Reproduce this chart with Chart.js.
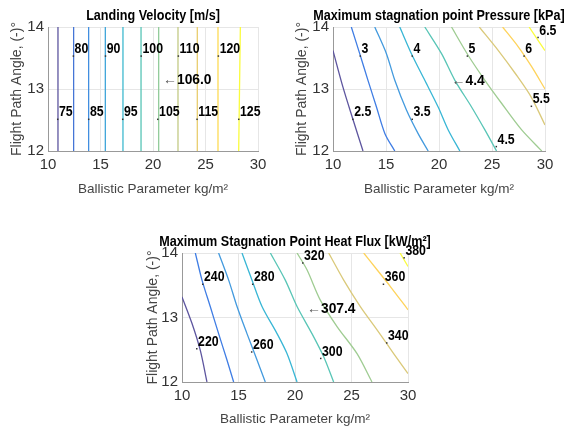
<!DOCTYPE html>
<html>
<head>
<meta charset="utf-8">
<script src="https://cdn.jsdelivr.net/npm/chart.js@4.4.0/dist/chart.umd.min.js"></script>
<style>
  body { margin: 0; background: #fff; }
  #wrap { position: relative; width: 569px; height: 430px; overflow: hidden; }
  canvas { position: absolute; }
</style>
</head>
<body>
<div id="wrap">
  <canvas id="velChart" style="left:0px;top:0px;width:285px;height:200px" width="285" height="200"></canvas>
  <canvas id="pressChart" style="left:285px;top:0px;width:284px;height:200px" width="284" height="200"></canvas>
  <canvas id="heatChart" style="left:130px;top:210px;width:320px;height:220px" width="320" height="220"></canvas>
</div>
<script>
const FONT = '"Liberation Sans", Arial, sans-serif';

// Landing velocity [m/s] - near vertical lines, x at gamma = 12 and gamma = 14
const velLevels = [75, 80, 85, 90, 95, 100, 105, 110, 115, 120, 125];
const velXat12 = [10.95, 12.44, 13.87, 15.46, 17.14, 18.86, 20.54, 22.38, 24.22, 26.19, 28.16];
const velXat14 = [10.95, 12.44, 13.87, 15.46, 17.14, 18.86, 20.54, 22.38, 24.22, 26.19, 28.32];
const velLabelText = ['80', '90', '100', '110', '120', '75', '85', '95', '105', '115', '125'];
const velLabelX = [12.44, 15.5, 18.9, 22.44, 26.25, 10.95, 13.9, 17.14, 20.48, 24.22, 28.19];
const velLabelY = [13.64, 13.64, 13.64, 13.64, 13.64, 12.62, 12.62, 12.62, 12.62, 12.62, 12.62];
const velMark = ['106.0', 20.95, 13.14];

// Maximum stagnation point pressure [kPa]
const pressLevels = [2.5, 3, 3.5, 4, 4.5, 5, 5.5, 6, 6.5];
const pressLines = [
  [[10, 13.62], [10.94, 13.03], [11.9, 12.5], [12.83, 12]],
  [[11.73, 14], [12.52, 13.57], [13.3, 13.14], [14.1, 12.71], [14.9, 12.28], [15.83, 12]],
  [[13.94, 14], [15.04, 13.57], [15.83, 13.14], [16.93, 12.66], [18.03, 12.28], [18.98, 12]],
  [[16.3, 14], [17.4, 13.57], [18.66, 13.14], [19.92, 12.71], [20.87, 12.34], [21.97, 12]],
  [[18.66, 14], [20.24, 13.57], [21.5, 13.14], [23.07, 12.71], [24.33, 12.34], [25.43, 12]],
  [[21.18, 14], [22.76, 13.54], [24.33, 13.14], [25.9, 12.77], [27.8, 12.34], [29.7, 12]],
  [[23.8, 14], [25.6, 13.62], [27.2, 13.25], [28.7, 12.87], [30, 12.42]],
  [[26, 14], [27.48, 13.68], [28.74, 13.36], [30, 13.0]],
  [[28.5, 14], [30, 13.62]]
];
const pressLabelText = ['3', '4', '5', '6', '6.5', '2.5', '3.5', '5.5', '4.5'];
const pressLabelX = [12.6, 17.5, 22.7, 28.05, 29.37, 11.9, 17.5, 28.74, 25.43];
const pressLabelY = [13.64, 13.64, 13.64, 13.64, 13.94, 12.62, 12.62, 12.83, 12.18];
const pressMark = ['4.4', 21.18, 13.13];

// Maximum stagnation point heat flux [kW/m2]
const heatLevels = [220, 240, 260, 280, 300, 320, 340, 360, 380];
const heatLines = [
  [[10, 13.32], [10.88, 12.91], [11.62, 12.49], [12.21, 12]],
  [[11.18, 14], [11.77, 13.58], [12.5, 13.17], [13.24, 12.75], [13.98, 12.34], [14.57, 12]],
  [[13.24, 14], [14.13, 13.58], [14.87, 13.17], [15.75, 12.75], [16.64, 12.34], [17.37, 12]],
  [[15.31, 14], [16.19, 13.58], [17.08, 13.17], [18.41, 12.75], [19.29, 12.44], [20.18, 12]],
  [[17.82, 14], [19.14, 13.58], [20.18, 13.17], [21.5, 12.75], [22.54, 12.39], [23.42, 12]],
  [[20.18, 14], [21.06, 13.74], [22.24, 13.27], [23.72, 12.86], [25.49, 12.44], [26.81, 12]],
  [[22.98, 14], [24.31, 13.58], [25.78, 13.17], [27.26, 12.81], [28.73, 12.44], [30, 12.13]],
  [[26.08, 14], [27.26, 13.74], [28.44, 13.48], [30, 13.12]],
  [[29.3, 14], [30, 13.79]]
];
const heatLabelText = ['240', '280', '320', '360', '380', '220', '260', '300', '340'];
const heatLabelX = [11.86, 16.28, 20.71, 27.85, 29.68, 11.33, 16.19, 22.3, 28.14];
const heatLabelY = [13.62, 13.62, 13.95, 13.62, 14.03, 12.62, 12.57, 12.47, 12.71];
const heatMark = ['307.4', 21.06, 13.13];

const xTicks = [10, 15, 20, 25, 30];
const yTicks = [12, 13, 14];

// parula-like colour stops
const PARULA = ['#352a87', '#0f5cdd', '#1481d6', '#06a4ca', '#2eb7a4', '#87bf77', '#d1bb59', '#fec832', '#f9fb0e'];

function hexToRgb(h) {
  return [parseInt(h.substr(1, 2), 16), parseInt(h.substr(3, 2), 16), parseInt(h.substr(5, 2), 16)];
}

// thin lines in the original look washed out, so blend a bit of white in
function parula(t) {
  const f = t * (PARULA.length - 1);
  const i = Math.min(Math.floor(f), PARULA.length - 2);
  const a = hexToRgb(PARULA[i]), b = hexToRgb(PARULA[i + 1]);
  const k = f - i;
  const c = a.map((v, j) => Math.round((v + (b[j] - v) * k) * 0.8 + 255 * 0.2));
  return 'rgb(' + c.join(',') + ')';
}

function squeezeText(ctx, t, x, y, sx) {
  ctx.save();
  ctx.translate(x, y);
  ctx.scale(sx, 1);
  ctx.fillText(t, 0, 0);
  ctx.restore();
}

function textPlugin(o) {
  return {
    id: 'contourText',
    afterDraw(chart) {
      const { ctx, chartArea, scales } = chart;
      ctx.save();
      // title
      ctx.fillStyle = '#000';
      ctx.font = 'bold 14px ' + FONT;
      ctx.textAlign = 'center';
      ctx.textBaseline = 'middle';
      squeezeText(ctx, o.title, (chartArea.left + chartArea.right) / 2, chartArea.top - 11, 0.9);
      // contour labels
      ctx.textAlign = 'left';
      ctx.font = 'bold 14px ' + FONT;
      o.labelText.forEach((t, i) => {
        const px = scales.x.getPixelForValue(o.labelX[i]);
        const py = scales.y.getPixelForValue(o.labelY[i]);
        ctx.fillStyle = '#333';
        ctx.fillRect(px - 1, py + 6, 1.5, 1.5);
        ctx.fillStyle = '#000';
        squeezeText(ctx, t, px + 1, py, 0.88);
      });
      // marked value
      const mx = scales.x.getPixelForValue(o.mark[1]);
      const my = scales.y.getPixelForValue(o.mark[2]);
      ctx.font = '14px ' + FONT;
      ctx.fillStyle = '#555';
      ctx.fillText('\u2190', mx, my);
      const w = ctx.measureText('\u2190').width;
      ctx.font = 'bold 15px ' + FONT;
      ctx.fillStyle = '#000';
      squeezeText(ctx, o.mark[0], mx + w, my, 0.92);
      ctx.restore();
    }
  };
}

function contourChart(id, o) {
  const datasets = o.lines.map((pts, i) => ({
    label: String(o.levels[i]),
    data: pts.map(p => ({ x: p[0], y: p[1] })),
    showLine: true,
    pointRadius: 0,
    borderWidth: 1.3,
    borderColor: parula(i / (o.lines.length - 1)),
    tension: 0.3
  }));

  new Chart(document.getElementById(id), {
    type: 'scatter',
    data: { datasets: datasets },
    options: {
      responsive: false,
      animation: false,
      layout: { padding: { top: o.top, right: o.right, left: 0, bottom: 0 } },
      plugins: { legend: { display: false }, tooltip: { enabled: false } },
      scales: {
        x: {
          type: 'linear', min: 10, max: 30,
          afterBuildTicks: s => { s.ticks = xTicks.map(v => ({ value: v })); },
          ticks: { padding: 5, color: '#333', font: { size: 15, family: FONT } },
          grid: { color: '#e6e6e6', drawTicks: false },
          border: { color: '#999' },
          title: {
            display: true, text: 'Ballistic Parameter kg/m\u00b2', color: '#444',
            font: { size: 13.5, family: FONT }, padding: { top: 0, bottom: 3 }
          },
          afterFit: s => { s.height = o.xh; }
        },
        y: {
          type: 'linear', min: 12, max: 14,
          afterBuildTicks: s => { s.ticks = yTicks.map(v => ({ value: v })); },
          ticks: { padding: 4, color: '#333', font: { size: 15, family: FONT } },
          grid: { color: '#e6e6e6', drawTicks: false },
          border: { color: '#999' },
          title: {
            display: true, text: 'Flight Path Angle, (-)\u00b0', color: '#444',
            font: { size: 14, family: FONT }, padding: { top: o.ytp, bottom: 0 }
          },
          afterFit: s => { s.width = o.yw; }
        }
      }
    },
    plugins: [textPlugin(o)]
  });
}

const velLines = velLevels.map((v, i) => [[velXat12[i], 12], [velXat14[i], 14]]);

contourChart('velChart', {
  levels: velLevels, lines: velLines,
  labelText: velLabelText, labelX: velLabelX, labelY: velLabelY, mark: velMark,
  title: 'Landing Velocity [m/s]',
  top: 27, right: 27, xh: 49, yw: 48, ytp: 8.6
});

contourChart('pressChart', {
  levels: pressLevels, lines: pressLines,
  labelText: pressLabelText, labelX: pressLabelX, labelY: pressLabelY, mark: pressMark,
  title: 'Maximum stagnation point Pressure [kPa]',
  top: 27, right: 24, xh: 49, yw: 48, ytp: 8.6
});

contourChart('heatChart', {
  levels: heatLevels, lines: heatLines,
  labelText: heatLabelText, labelX: heatLabelX, labelY: heatLabelY, mark: heatMark,
  title: 'Maximum Stagnation Point Heat Flux [kW/m\u00b2]',
  top: 43, right: 42, xh: 48, yw: 52, ytp: 15
});
</script>
</body>
</html>
